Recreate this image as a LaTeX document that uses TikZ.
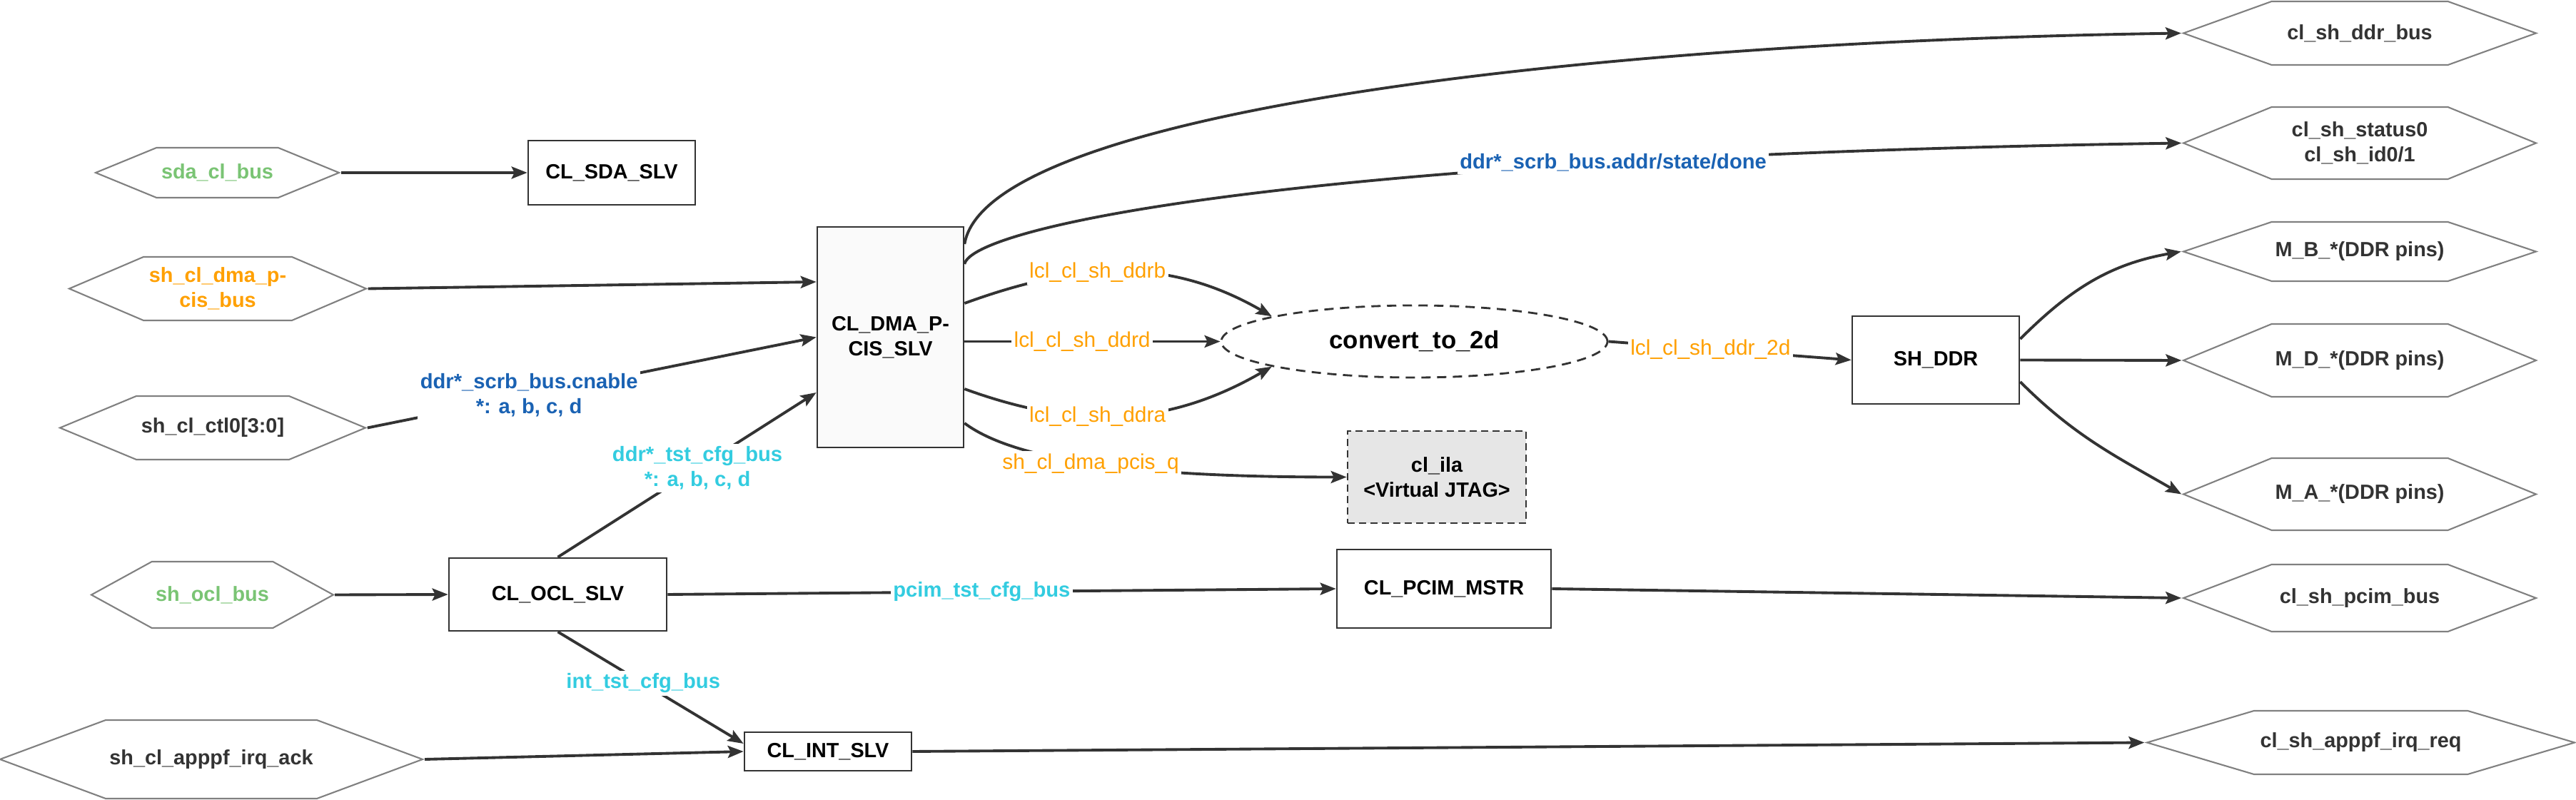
\documentclass[tikz,border=0pt]{standalone}
\usepackage{fontspec}
\setmainfont{Liberation Sans}
\usetikzlibrary{arrows.meta, shapes.geometric, shapes.symbols}
\definecolor{LnD} {HTML}{333333}
\definecolor{HexL}{HTML}{808080}
\definecolor{BusG}{HTML}{7AC474}
\definecolor{BusO}{HTML}{FFA000}
\definecolor{BusB}{HTML}{1A62B3}
\definecolor{BusC}{HTML}{33CCE0}
\definecolor{IlaF}{HTML}{E6E6E6}
\definecolor{DmaF}{HTML}{FAFAFA}
\tikzset{
  BOX/.style={
    rectangle, draw=LnD, fill=white, text=black,
    font=\fontsize{8.2}{10}\selectfont\bfseries, align=center,
    line width=0.75pt, inner sep=2pt
  },
  HEX/.style args={#1/#2}{
    signal, signal to=east and west, draw=HexL, fill=white, text=LnD,
    line width=0.6pt, inner sep=1pt, align=center,
    font=\fontsize{8.2}{10}\selectfont\bfseries,
    minimum width=#1cm, minimum height=#2cm,
    /utils/exec={\pgfmathsetmacro\hexang{2*atan(2*#2/#1)}},
    signal pointer angle=\hexang
  },
  ARR/.style={
    -{Stealth[length=2.2mm,width=1.7mm,inset=0.4mm]},
    line width=1.1pt, color=LnD
  },
  LBL/.style={
    fill=white, inner sep=1pt, align=center, text=#1,
    font=\fontsize{8.3}{10}\selectfont\bfseries
  },
  SIG/.style={
    fill=white, inner sep=1pt, text=BusO,
    font=\fontsize{8.5}{10}\selectfont
  },
}

\begin{document}
\begin{tikzpicture}
\useasboundingbox (0,0) rectangle (36.09,11.2);

%================ SH SIDE INPUTS =================
\node[HEX=3.41/0.70, text=BusG] (sdabus)  at (3.045,8.78)  {sda\_cl\_bus};
\node[HEX=4.16/0.89, text=BusO] (pcisbus) at (3.05,7.155)  {sh\_cl\_dma\_p-\\cis\_bus};
\node[HEX=4.28/0.89]            (ctlbus)  at (2.98,5.205)  {sh\_cl\_ctl0[3:0]};
\node[HEX=3.39/0.93, text=BusG] (oclbus)  at (2.975,2.865) {sh\_ocl\_bus};
\node[HEX=5.92/1.10]            (ackbus)  at (2.96,0.56)   {sh\_cl\_apppf\_irq\_ack};

%================ CL BLOCKS =================
\node[BOX, minimum width=2.34cm, minimum height=0.90cm] (sdaslv) at (8.57,8.78) {CL\_SDA\_SLV};
\node[BOX, fill=DmaF, minimum width=2.05cm, minimum height=3.09cm] (dma) at (12.475,6.475) {CL\_DMA\_P-\\CIS\_SLV};
\node[BOX, minimum width=3.05cm, minimum height=1.02cm] (oclslv) at (7.815,2.87) {CL\_OCL\_SLV};
\node[BOX, minimum width=2.34cm, minimum height=0.54cm] (intslv) at (11.60,0.67) {CL\_INT\_SLV};
\node[BOX, minimum width=3.00cm, minimum height=1.10cm] (pcim) at (20.23,2.95) {CL\_PCIM\_MSTR};
\node[BOX, fill=IlaF, dash pattern=on 1mm off 0.6mm,
minimum width=2.50cm, minimum height=1.29cm] (ila) at (20.13,4.515) {cl\_ila\\<Virtual JTAG>};

\node[ellipse, draw=LnD, line width=0.8pt, dash pattern=on 1.3mm off 0.9mm,
minimum width=5.41cm, minimum height=1.01cm,
font=\fontsize{9.9}{12}\selectfont\bfseries] (conv) at (19.815,6.415) {convert\_to\_2d};

\node[BOX, minimum width=2.34cm, minimum height=1.23cm] (shddr) at (27.12,6.155) {SH\_DDR};

%================ SH SIDE OUTPUTS =================
\node[HEX=4.94/0.89] (ddrbus)  at (33.06,10.735) {cl\_sh\_ddr\_bus};
\node[HEX=4.94/1.01] (status)  at (33.06,9.195)  {cl\_sh\_status0\\cl\_sh\_id0/1};
\node[HEX=4.94/0.83] (mb)      at (33.06,7.675)  {M\_B\_*(DDR pins)};
\node[HEX=4.94/1.02] (md)      at (33.06,6.15)   {M\_D\_*(DDR pins)};
\node[HEX=4.94/1.01] (ma)      at (33.06,4.275)  {M\_A\_*(DDR pins)};
\node[HEX=4.94/0.94] (pcimbus) at (33.06,2.82)   {cl\_sh\_pcim\_bus};
\node[HEX=5.99/0.89] (irqreq)  at (33.075,0.795) {cl\_sh\_apppf\_irq\_req};

%================ INPUT PATHS =================
\draw[ARR] (sdabus.east) -- (sdaslv.west);
\draw[ARR] (pcisbus.east) -- ([yshift=0.775cm]dma.west);
\draw[ARR] (ctlbus.east) -- node[pos=0.36,LBL=BusB]{ddr*\_scrb\_bus.cnable\\{}*: a, b, c, d} (dma.west);
\draw[ARR] (oclbus.east) -- (oclslv.west);
\draw[ARR] (ackbus.east) -- (intslv.west);

%================ OCL FAN-OUT =================
\draw[ARR] (oclslv.north) -- node[pos=0.54,LBL=BusC]{ddr*\_tst\_cfg\_bus\\{}*: a, b, c, d} ([yshift=-0.775cm]dma.west);
\draw[ARR] (oclslv.south) -- node[pos=0.46,LBL=BusC]{int\_tst\_cfg\_bus} ([yshift=0.11cm]intslv.west);
\draw[ARR] (oclslv.east) -- node[pos=0.47,LBL=BusC]{pcim\_tst\_cfg\_bus} (pcim.west);
\draw[ARR] (pcim.east) -- (pcimbus.west);
\draw[ARR] (intslv.east) -- (irqreq.west);

%================ DMA OUTPUTS =================
\draw[ARR] ([yshift=1.305cm]dma.east) .. controls +(0.30,1.82) and +(-8.59,-0.13) .. (ddrbus.west);
\draw[ARR] ([yshift=1.025cm]dma.east) .. controls +(0.10,0.50) and +(-12.59,-0.19) ..
node[pos=0.75,LBL=BusB]{ddr*\_scrb\_bus.addr/state/done} (status.west);

\draw[ARR] ([yshift=0.475cm]dma.east) to[out=20,in=150] node[pos=0.42,SIG]{lcl\_cl\_sh\_ddrb} (conv.170);
\draw[ARR] (dma.east |- conv.west) -- node[pos=0.46,SIG]{lcl\_cl\_sh\_ddrd} (conv.west);
\draw[ARR] ([yshift=-0.725cm]dma.east) to[out=-20,in=210] node[pos=0.42,SIG]{lcl\_cl\_sh\_ddra} (conv.190);
\draw[ARR] ([yshift=-1.205cm]dma.east) .. controls +(0.8,-0.6) and +(-2.5,0) ..
node[pos=0.45,SIG]{sh\_cl\_dma\_pcis\_q} (ila.west);

%================ DDR PATHS =================
\draw[ARR] (conv.east) -- node[pos=0.42,SIG]{lcl\_cl\_sh\_ddr\_2d} (shddr.west);
\draw[ARR] ([yshift=0.295cm]shddr.east) to[out=45,in=190] (mb.west);
\draw[ARR] (shddr.east) -- (md.west);
\draw[ARR] ([yshift=-0.305cm]shddr.east) to[out=-45,in=150] (ma.west);

\end{tikzpicture}
\end{document}
